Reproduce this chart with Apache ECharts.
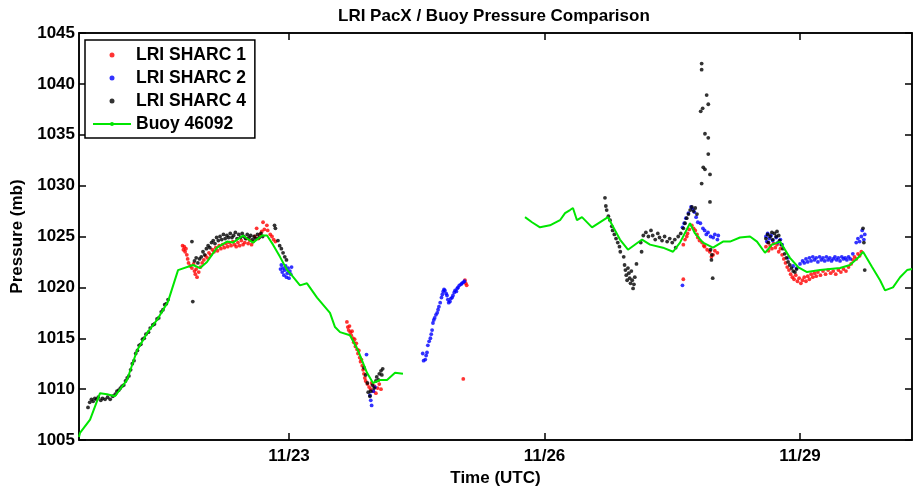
<!DOCTYPE html>
<html>
<head>
<meta charset="utf-8">
<script src="https://cdn.jsdelivr.net/npm/echarts@6/dist/echarts.min.js"></script>
<style>html,body{margin:0;padding:0;background:#fff}#c{width:920px;height:490px}</style>
</head>
<body>
<div id="c"></div>
<script>
// x values are fractional day-of-November (UTC), y values are pressure in mb
const xTickDays = [23, 26, 29];
const xTickLabels = ['11/23', '11/26', '11/29'];
const yTicks = [1005, 1010, 1015, 1020, 1025, 1030, 1035, 1040, 1045];
const seriesNames = ['LRI SHARC 1', 'LRI SHARC 2', 'LRI SHARC 4', 'Buoy 46092'];

const sharc1 = [
[21.75,1024.1],[21.76,1023.7],[21.77,1024.0],[21.78,1023.5],[21.79,1023.8],[21.80,1023.2],[21.81,1022.8],[21.82,1022.4],[21.84,1022.1],[21.86,1021.9],[21.88,1022.3],[21.89,1021.6],[21.90,1021.3],[21.91,1021.8],[21.92,1021.0],[21.94,1021.5],[21.96,1022.0],[21.98,1022.4],
[22.00,1022.7],[22.02,1023.1],[22.04,1022.9],[22.06,1023.4],[22.08,1023.2],[22.10,1023.7],[22.12,1023.5],[22.14,1023.9],[22.16,1023.6],[22.18,1024.1],[22.20,1023.8],[22.22,1024.2],[22.24,1023.9],[22.26,1024.3],[22.28,1024.0],[22.30,1024.4],[22.32,1024.1],[22.34,1024.5],[22.36,1024.2],[22.38,1024.0],[22.40,1024.4],[22.42,1024.1],[22.44,1024.6],[22.46,1024.2],[22.48,1024.4],[22.50,1024.8],[22.52,1024.3],[22.54,1024.6],[22.56,1024.2],[22.58,1024.5],[22.60,1025.0],[22.62,1025.8],[22.64,1024.8],[22.66,1025.2],[22.68,1025.5],[22.695,1026.4],[22.71,1025.7],[22.74,1026.1],[22.75,1025.6],[22.78,1025.2],[22.80,1025.0],[22.82,1024.7],[22.84,1024.5],
[23.68,1016.6],[23.69,1016.1],[23.70,1015.8],[23.71,1016.2],[23.72,1015.6],[23.73,1015.3],[23.74,1015.7],[23.75,1015.0],[23.76,1014.6],[23.77,1014.9],[23.78,1014.2],[23.79,1014.5],[23.80,1013.9],[23.81,1013.5],[23.82,1013.8],[23.83,1013.1],[23.84,1012.7],[23.85,1012.9],[23.86,1012.3],[23.87,1011.9],[23.88,1011.5],[23.89,1011.1],[23.90,1010.8],[23.92,1010.5],[23.94,1010.2],[23.96,1010.0],[23.97,1010.6],[23.99,1009.8],[24.00,1010.3],[24.02,1009.6],[24.04,1010.1],[24.06,1010.5],[24.08,1010.0],
[25.046,1011.0],[25.066,1020.7],[25.075,1020.4],[25.086,1020.2],
[27.63,1020.8],[27.63,1024.2],[27.65,1024.7],[27.67,1025.0],[27.68,1025.3],[27.70,1025.7],[27.73,1026.1],[27.75,1025.8],[27.77,1025.6],[27.79,1025.2],[27.80,1024.9],[27.82,1024.6],[27.85,1024.4],[27.87,1024.1],[27.88,1024.0],[27.91,1023.7],[27.94,1023.5],[27.96,1023.0],[27.98,1023.2],[28.00,1023.6],[28.03,1023.4],
[28.60,1024.0],[28.62,1024.4],[28.63,1023.6],[28.65,1024.1],[28.67,1023.8],[28.69,1024.3],[28.71,1023.9],[28.73,1024.2],[28.75,1023.5],[28.77,1023.8],[28.79,1023.2],[28.81,1022.8],[28.83,1022.4],[28.85,1022.0],[28.87,1021.7],[28.89,1021.3],[28.91,1021.0],[28.93,1020.8],[28.95,1021.2],[28.97,1020.6],[28.99,1020.9],[29.01,1020.4],[29.03,1020.7],[29.05,1021.0],[29.07,1020.6],[29.09,1021.1],[29.11,1020.8],[29.13,1021.3],[29.15,1021.0],[29.17,1021.4],[29.19,1021.1],[29.21,1021.5],[29.24,1021.2],[29.27,1021.6],[29.30,1021.3],[29.33,1021.7],[29.36,1021.4],[29.39,1021.6],[29.42,1021.3],[29.45,1021.7],[29.48,1021.5],[29.51,1021.8],[29.54,1021.6],[29.57,1022.0],[29.60,1022.3],[29.62,1022.7],[29.64,1023.0],[29.66,1022.8],[29.68,1023.3],[29.70,1023.1],[29.72,1023.5]
];

const sharc2 = [
[22.90,1021.8],[22.91,1022.2],[22.92,1021.5],[22.93,1021.9],[22.94,1021.2],[22.95,1021.7],[22.96,1022.1],[22.97,1021.0],[22.98,1021.4],[22.99,1021.9],[23.00,1020.9],[23.01,1021.6],[23.02,1021.3],[23.03,1022.0],
[23.91,1013.4],[23.95,1009.4],[23.96,1008.9],[23.97,1008.4],[23.99,1009.8],[24.01,1010.2],
[24.57,1013.5],[24.58,1012.8],[24.60,1012.9],[24.61,1013.3],[24.62,1013.6],[24.63,1014.3],[24.645,1014.7],[24.66,1015.0],[24.67,1015.4],[24.68,1015.8],[24.69,1016.5],[24.70,1016.8],[24.71,1017.0],[24.725,1017.3],[24.74,1017.5],[24.75,1017.8],[24.76,1018.1],[24.775,1018.5],[24.79,1019.0],[24.80,1019.3],[24.81,1019.6],[24.82,1019.8],[24.83,1019.7],[24.845,1019.4],[24.855,1019.2],[24.865,1018.8],[24.875,1018.5],[24.89,1018.6],[24.90,1018.9],[24.915,1019.0],[24.925,1019.2],[24.94,1019.5],[24.95,1019.7],[24.965,1019.6],[24.975,1019.9],[24.985,1020.0],[25.00,1020.2],[25.02,1020.3],[25.03,1020.4],[25.045,1020.5],[25.06,1020.6],
[27.62,1020.2],[27.62,1025.9],[27.64,1026.3],[27.66,1026.8],[27.69,1027.3],[27.72,1027.9],[27.74,1027.7],[27.76,1027.4],[27.78,1026.9],[27.80,1026.4],[27.83,1026.3],[27.86,1025.8],[27.88,1025.6],[27.90,1025.2],[27.92,1025.4],[27.95,1025.0],[27.98,1024.9],[28.00,1025.2],[28.03,1024.7],[28.04,1025.1],
[28.60,1025.0],[28.61,1024.5],[28.62,1025.3],[28.64,1024.8],[28.66,1025.1],[28.68,1024.6],[28.72,1024.9],[28.74,1024.4],[28.77,1024.7],[28.79,1024.2],[28.86,1022.9],[28.92,1022.1],[28.96,1021.9],[29.00,1022.3],[29.03,1022.6],[29.05,1022.4],[29.07,1022.8],[29.09,1022.5],[29.11,1022.9],[29.13,1022.6],[29.15,1023.0],[29.17,1022.7],[29.19,1022.9],[29.21,1022.5],[29.23,1023.0],[29.25,1022.7],[29.27,1022.9],[29.29,1022.6],[29.31,1023.0],[29.33,1022.7],[29.35,1022.9],[29.37,1022.6],[29.39,1022.8],[29.41,1023.0],[29.43,1022.7],[29.45,1022.9],[29.47,1022.6],[29.49,1023.0],[29.51,1022.8],[29.53,1022.9],[29.55,1022.7],[29.57,1023.0],[29.59,1022.8],[29.62,1023.3],[29.66,1024.4],[29.68,1024.8],[29.70,1024.5],[29.72,1025.0],[29.73,1025.6],[29.75,1024.7],[29.76,1025.2]
];

const sharc4 = [
[20.64,1008.2],[20.66,1008.7],[20.68,1009.0],[20.70,1008.8],[20.72,1009.1],[20.74,1009.0],[20.76,1009.2],[20.79,1008.9],[20.81,1009.1],[20.84,1009.0],[20.87,1009.2],[20.90,1009.0],[20.93,1009.3],[20.96,1009.5],[20.98,1009.8],[21.00,1009.9],[21.02,1010.1],[21.04,1010.3],[21.06,1010.4],[21.08,1010.8],[21.10,1011.1],[21.12,1011.3],[21.14,1011.9],[21.16,1012.5],[21.18,1012.8],[21.20,1013.5],[21.22,1013.8],[21.24,1014.3],[21.26,1014.4],[21.28,1014.9],[21.30,1015.0],[21.32,1015.4],[21.35,1015.6],[21.37,1016.0],[21.40,1016.3],[21.42,1016.4],[21.45,1016.9],[21.47,1017.0],[21.50,1017.6],[21.52,1017.8],[21.54,1018.3],[21.56,1018.4],[21.58,1018.8],
[21.86,1024.5],[21.87,1018.6],[21.89,1022.6],[21.91,1022.9],[21.93,1022.4],[21.95,1022.8],[21.97,1023.0],[21.99,1023.5],[22.01,1023.2],[22.03,1023.8],[22.05,1024.1],[22.07,1023.9],[22.09,1024.4],[22.11,1024.6],[22.13,1024.3],[22.15,1024.9],[22.17,1024.6],[22.19,1025.0],[22.21,1024.7],[22.23,1025.2],[22.25,1024.8],[22.27,1025.1],[22.29,1024.9],[22.31,1025.3],[22.33,1024.9],[22.35,1025.1],[22.37,1025.4],[22.39,1024.8],[22.41,1025.2],[22.43,1024.9],[22.45,1025.3],[22.47,1025.0],[22.49,1024.8],[22.51,1025.2],[22.53,1024.9],[22.55,1025.1],[22.57,1024.7],[22.59,1025.0],[22.61,1024.8],[22.63,1025.2],[22.65,1024.9],[22.67,1025.3],[22.69,1025.0],[22.83,1026.1],[22.84,1025.8],[22.87,1024.6],[22.89,1024.1],[22.91,1023.8],[22.93,1023.4],[22.95,1023.0],[22.97,1022.7],
[23.88,1012.1],[23.90,1011.4],[23.92,1010.6],[23.93,1009.7],[23.95,1009.3],[23.96,1009.8],[23.98,1010.4],[24.00,1010.1],[24.02,1010.8],[24.03,1011.2],[24.05,1010.9],[24.06,1011.5],[24.08,1011.8],[24.09,1011.4],[24.10,1012.0],
[26.71,1028.8],[26.72,1028.0],[26.73,1027.6],[26.75,1027.0],[26.77,1026.6],[26.79,1026.0],[26.80,1025.6],[26.82,1025.2],[26.84,1024.8],[26.86,1024.4],[26.88,1024.0],[26.89,1023.5],
[26.93,1023.0],[26.94,1022.2],[26.95,1021.7],[26.96,1021.2],[26.97,1020.7],[26.98,1021.9],[26.99,1021.4],[27.00,1020.9],[27.01,1020.4],[27.02,1021.6],[27.03,1020.7],[27.04,1019.9],[27.05,1020.3],[27.06,1021.0],[27.08,1022.3],
[27.13,1024.4],[27.14,1023.5],[27.16,1025.1],[27.19,1025.4],[27.22,1025.0],[27.25,1025.6],[27.27,1025.1],[27.30,1024.7],[27.33,1025.3],[27.35,1024.9],[27.38,1024.6],[27.41,1025.0],[27.44,1024.5],[27.47,1024.8],[27.50,1024.4],[27.53,1024.7],[27.54,1023.9],[27.57,1025.0],[27.60,1025.3],[27.63,1025.8],[27.65,1026.3],[27.67,1026.8],[27.69,1027.2],[27.71,1027.6],[27.73,1027.9],[27.75,1027.5],[27.77,1027.8],[27.79,1027.2],
[27.845,1042.0],[27.845,1041.4],[27.904,1038.9],[27.923,1038.0],[27.834,1037.3],[27.857,1037.6],[27.884,1035.1],[27.923,1034.7],[27.923,1033.1],[27.864,1031.8],[27.884,1031.6],[27.943,1031.1],[27.845,1030.2],[27.943,1028.4],
[27.95,1023.7],[27.96,1022.7],[27.965,1023.2],[27.975,1020.9],
[28.60,1024.8],[28.62,1025.2],[28.63,1024.4],[28.65,1025.0],[28.67,1025.4],[28.68,1024.7],[28.70,1025.3],[28.72,1025.0],[28.73,1025.5],[28.75,1025.1],[28.76,1024.6],[28.78,1024.2],[28.80,1023.8],[28.82,1023.3],[28.84,1022.9],[28.86,1022.5],[28.88,1022.2],[28.90,1021.9],[28.92,1021.6],[28.94,1021.5],[28.96,1021.8],
[29.74,1025.8],[29.75,1024.4],[29.76,1021.7]
];

const buoy = [
[20.534,1005.3],[20.546,1005.7],[20.664,1007.0],[20.781,1009.6],[20.863,1009.5],[20.957,1009.3],[21.098,1010.9],[21.215,1013.8],[21.333,1015.5],[21.450,1016.8],[21.579,1018.6],[21.697,1021.7],[21.873,1022.2],[21.955,1021.9],[22.037,1022.5],[22.155,1023.9],[22.272,1024.5],[22.342,1024.4],[22.460,1025.1],[22.507,1024.8],[22.577,1024.4],[22.683,1025.1],[22.742,1025.1],[22.812,1024.2],[22.894,1023.0],[22.977,1021.7],[23.012,1021.4],[23.129,1020.2],[23.211,1020.4],[23.329,1019.0],[23.481,1017.5],[23.540,1016.1],[23.599,1015.6],[23.716,1015.3],[23.810,1013.8],[23.916,1011.6],[23.986,1010.6],[24.068,1010.9],[24.151,1010.9],[24.245,1011.6],[24.338,1011.5],
[24.40,null],
[25.771,1026.9],[25.853,1026.4],[25.947,1025.9],[26.064,1026.1],[26.182,1026.6],[26.241,1027.3],[26.299,1027.6],[26.334,1027.8],[26.381,1026.6],[26.440,1026.9],[26.558,1025.9],[26.745,1026.9],[26.886,1024.7],[26.980,1023.7],[27.145,1024.7],[27.239,1024.2],[27.391,1023.9],[27.509,1023.5],[27.591,1024.4],[27.708,1026.3],[27.767,1025.3],[27.861,1024.4],[27.978,1023.9],[28.096,1024.5],[28.178,1024.5],[28.295,1024.9],[28.413,1025.0],[28.495,1024.5],[28.589,1023.4],[28.671,1024.2],[28.765,1024.5],[28.882,1022.9],[28.977,1022.0],[29.082,1021.5],[29.235,1021.7],[29.470,1021.9],[29.587,1022.2],[29.681,1022.9],[29.740,1023.5],[29.846,1022.0],[29.940,1020.7],[29.998,1019.7],[30.092,1020.0],[30.175,1021.0],[30.257,1021.7],[30.315,1021.8]
];

const FONT = '"Liberation Sans", Arial, sans-serif';
const chart = echarts.init(document.getElementById('c'), null, {renderer: 'canvas'});
const xMin = 20.534, xMax = 30.315;

function scatter(name, data, color) {
  return {
    name, type: 'scatter', data, symbol: 'circle', symbolSize: 3.8,
    itemStyle: {color}, silent: true, animation: false
  };
}

chart.setOption({
  animation: false,
  backgroundColor: '#ffffff',
  title: {
    text: 'LRI PacX / Buoy Pressure Comparison',
    left: 333, top: 3,
    textStyle: {fontFamily: FONT, fontSize: 17, fontWeight: 'bold', color: '#000'}
  },
  grid: {left: 79, right: 8, top: 33, bottom: 50, containLabel: false, outerBoundsMode: 'none',
         show: true, borderColor: '#000', borderWidth: 1.5, backgroundColor: 'transparent'},
  legend: {
    left: 85, top: 40, orient: 'vertical',
    data: seriesNames,
    itemWidth: 38, itemHeight: 5, itemGap: 3,
    padding: [5, 9, 4, 7],
    borderColor: '#000', borderWidth: 1.5, backgroundColor: '#fff',
    textStyle: {fontFamily: FONT, fontSize: 17.5, fontWeight: 'bold', color: '#000', lineHeight: 20}
  },
  xAxis: [{
    type: 'value', min: xMin, max: xMax,
    name: 'Time (UTC)', nameLocation: 'middle', nameGap: 25,
    nameTextStyle: {fontFamily: FONT, fontSize: 17, fontWeight: 'bold', color: '#000'},
    axisLine: {show: true, lineStyle: {color: '#000', width: 1.5}},
    axisTick: {show: true, inside: true, length: 7, customValues: xTickDays, lineStyle: {color: '#000', width: 1.5}},
    axisLabel: {customValues: xTickDays, margin: 8, fontFamily: FONT, fontSize: 17, fontWeight: 'bold', color: '#000',
      formatter: v => xTickLabels[xTickDays.indexOf(Math.round(v))] || ''},
    splitLine: {show: false}
  }, {
    type: 'value', min: xMin, max: xMax, position: 'top',
    axisLine: {show: true, lineStyle: {color: '#000', width: 1.5}},
    axisTick: {show: true, inside: true, length: 7, customValues: xTickDays, lineStyle: {color: '#000', width: 1.5}},
    axisLabel: {show: false}, splitLine: {show: false}
  }],
  yAxis: [{
    type: 'value', min: yTicks[0], max: yTicks[yTicks.length - 1], interval: 5,
    name: 'Pressure (mb)', nameLocation: 'middle', nameGap: 45, nameRotate: 90,
    nameTextStyle: {fontFamily: FONT, fontSize: 17, fontWeight: 'bold', color: '#000'},
    axisLine: {show: true, lineStyle: {color: '#000', width: 1.5}},
    axisTick: {show: true, inside: true, length: 7, lineStyle: {color: '#000', width: 1.5}},
    axisLabel: {margin: 4, fontFamily: FONT, fontSize: 17, fontWeight: 'bold', color: '#000',
      formatter: v => String(v)},
    splitLine: {show: false}
  }, {
    type: 'value', min: yTicks[0], max: yTicks[yTicks.length - 1], interval: 5, position: 'right',
    axisLine: {show: true, lineStyle: {color: '#000', width: 1.5}},
    axisTick: {show: true, inside: true, length: 7, lineStyle: {color: '#000', width: 1.5}},
    axisLabel: {show: false}, splitLine: {show: false}
  }],
  series: [
    scatter(seriesNames[0], sharc1, '#ff0000'),
    scatter(seriesNames[1], sharc2, '#0000ff'),
    scatter(seriesNames[2], sharc4, '#000000'),
    {
      name: seriesNames[3], type: 'line', data: buoy, connectNulls: false,
      symbol: 'circle', symbolSize: 3, showSymbol: false,
      lineStyle: {color: '#00e600', width: 2}, itemStyle: {color: '#00e600'},
      silent: true, z: 3
    }
  ]
});
</script>
</body>
</html>
